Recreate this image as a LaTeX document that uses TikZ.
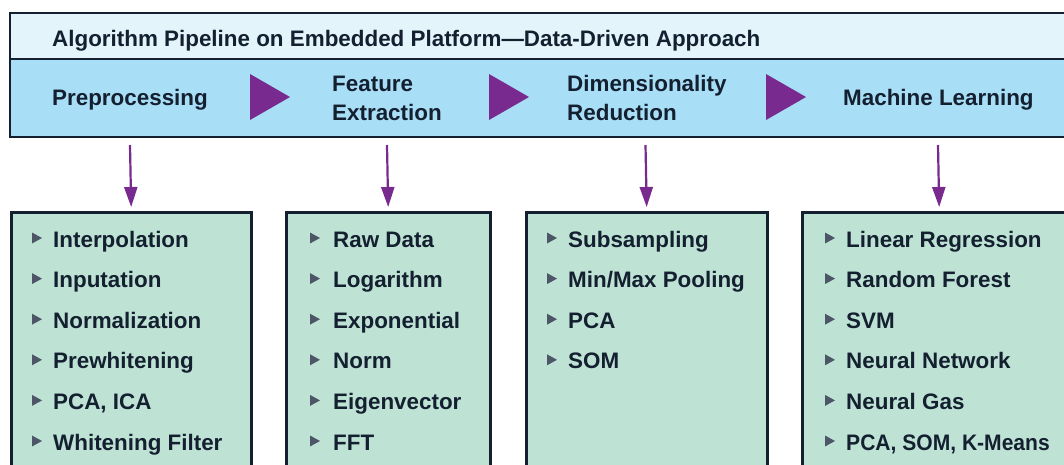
\documentclass[tikz,border=0pt]{standalone}
\usepackage{fontspec}
\setmainfont{Liberation Sans}
\usetikzlibrary{arrows.meta}
\definecolor{navy}{HTML}{142030}
\definecolor{titleblue}{HTML}{E3F4FB}
\definecolor{bandblue}{HTML}{A8DEF6}
\definecolor{mint}{HTML}{BEE3D5}
\definecolor{plum}{HTML}{782A8E}
\definecolor{bulletgray}{HTML}{4D5666}
\tikzset{
  listbox/.style = {draw = navy, line width = 2.5pt, fill = mint, anchor = north west, minimum height = 300pt},
  item/.style = {anchor = base west},
  flow/.style = {plum, line width = 2.2pt, -{Triangle[width=13pt,length=20pt]}, shorten > = 4pt}
}
\begin{document}
\begin{tikzpicture}[x = 1pt, y = -1pt, every node/.style = {font = {\fontsize{22.4}{29}\selectfont\bfseries}, text = navy, inner sep = 0pt}]
        \clip (0,0) rectangle (1064,464);
        \fill[white] (0,0) rectangle (1064,464);
        % header frame
        \draw[navy, line width = 2.5pt, fill = titleblue] (10,13) rectangle (1075,59);
        \draw[navy, line width = 2.5pt, fill = bandblue] (10,59) rectangle (1075,137);
        \node[item] (title) at (52,46) {Algorithm Pipeline on Embedded Platform—Data-Driven Approach};

        \node[item] (prep) at (52,105) {Preprocessing};
        \node[anchor = west, align = left] (feat) at (332,98) {Feature\\Extraction};
        \node[anchor = west, align = left] (dim) at (567,98) {Dimensionality\\Reduction};
        \node[item] (ml) at (843,105) {Machine Learning};

        \foreach \x in {250,489,766}
            \fill[plum] (\x,74) -- (\x+40,97) -- (\x,120) -- cycle;

        % lists
        \node[listbox, minimum width = 240pt] (prebox) at (10,211) {};
        \node[listbox, minimum width = 204pt] (featbox) at (285,211) {};
        \node[listbox, minimum width = 241pt] (dimbox) at (525,211) {};
        \node[listbox, minimum width = 274pt] (mlbox) at (801,211) {};

        \coordinate (a1) at (130,145);
        \coordinate (a2) at (387,145);
        \coordinate (a3) at (645.5,145);
        \coordinate (a4) at (938,145);
        \draw[flow] (a1) -- (prebox.north);
        \draw[flow] (a2) -- (featbox.north);
        \draw[flow] (a3) -- (dimbox.north);
        \draw[flow] (a4) -- (mlbox.north);

        \foreach \t [count = \i from 0] in {Interpolation, Inputation, Normalization, Prewhitening, {PCA, ICA}, Whitening Filter} {
            \fill[bulletgray] (32,238+40.6*\i-5.5) -- (42,238+40.6*\i) -- (32,238+40.6*\i+5.5) -- cycle;
            \node[item] (pre\i) at (53,247+40.6*\i) {\t};
        }
        \foreach \t [count = \i from 0] in {Raw Data, Logarithm, Exponential, Norm, Eigenvector, FFT} {
            \fill[bulletgray] (310,238+40.6*\i-5.5) -- (320,238+40.6*\i) -- (310,238+40.6*\i+5.5) -- cycle;
            \node[item] (feat\i) at (333,247+40.6*\i) {\t};
        }
        \foreach \t [count = \i from 0] in {Subsampling, Min/Max Pooling, PCA, SOM} {
            \fill[bulletgray] (547,238+40.6*\i-5.5) -- (557,238+40.6*\i) -- (547,238+40.6*\i+5.5) -- cycle;
            \node[item] (dim\i) at (568,247+40.6*\i) {\t};
        }
        \foreach \t [count = \i from 0] in {Linear Regression, Random Forest, SVM, Neural Network, Neural Gas, {\addfontfeature{FakeStretch=0.94}PCA, SOM, K-Means}} {
            \fill[bulletgray] (825,238+40.6*\i-5.5) -- (835,238+40.6*\i) -- (825,238+40.6*\i+5.5) -- cycle;
            \node[item] (ml\i) at (846,247+40.6*\i) {\t};
        }
    \end{tikzpicture}
\end{document}
